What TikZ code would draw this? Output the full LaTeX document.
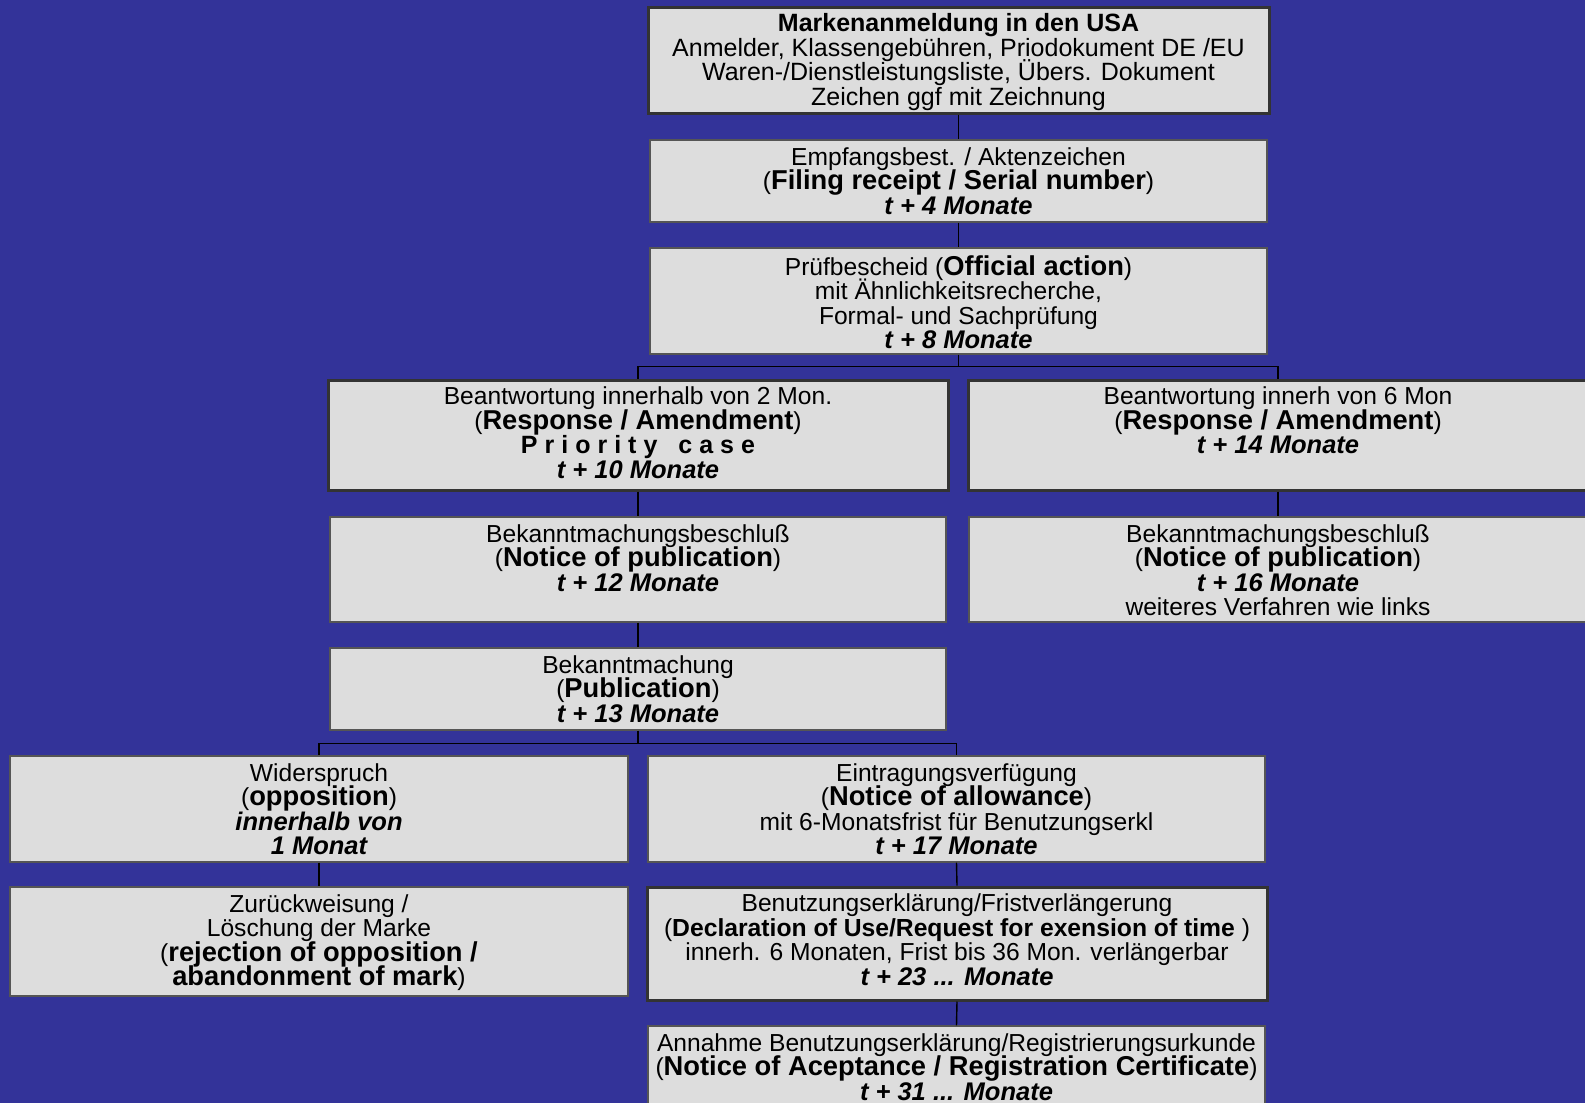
\documentclass[tikz,border=0pt]{standalone}
\usepackage{fontspec}
\setmainfont{Liberation Sans}
\definecolor{bg}{HTML}{333399}
\definecolor{boxfill}{HTML}{DDDDDD}
\definecolor{thickedge}{HTML}{333333}
\definecolor{thinedge}{HTML}{555555}
\newcommand\Bx[1]{{\fontsize{27.3}{24.5}\selectfont\bfseries #1}}
\newcommand\Ttl[1]{{\fontsize{25}{24.5}\selectfont\bfseries #1}}
\newcommand\Tm[1]{{\fontsize{25.5}{24.5}\selectfont\bfseries\itshape #1}}
\newcommand\Lg[1]{{\fontsize{25}{24.5}\selectfont #1}}
\newcommand\ls{\kern7pt}
\begin{document}
\begin{tikzpicture}[x=1pt,y=-1pt,
  box/.style={draw=thinedge, line width=1.2pt, fill=boxfill, inner sep=0pt, rectangle},
  heavy/.style={box, draw=thickedge, line width=3pt},
  txt/.style={anchor=north, align=center, inner sep=0pt, text=black,
    font=\fontsize{24.6}{24.5}\selectfont,
    execute at begin node={\lineskiplimit=-100pt\lineskip=0pt\relax\rule{0pt}{18pt}}},
  link/.style={draw=black, line width=1.4pt}]
\useasboundingbox (0,0) rectangle (1585,1103);
\clip (0,0) rectangle (1585,1103);
\fill[bg] (0,0) rectangle (1585,1103);

% boxes
\node[heavy, minimum width=621pt, minimum height=106pt] (b1) at (958.5,60) {};
\node[box, minimum width=617pt, minimum height=82pt] (b2) at (958.5,181) {};
\node[box, minimum width=617pt, minimum height=106pt] (b3) at (958.5,301) {};
\node[heavy, minimum width=620pt, minimum height=110pt] (b4L) at (638,435) {};
\node[heavy, minimum width=620pt, minimum height=110pt] (b4R) at (1278,435) {};
\node[box, minimum width=616pt, minimum height=105pt] (b5L) at (638,569.5) {};
\node[box, minimum width=618pt, minimum height=105pt] (b5R) at (1278,569.5) {};
\node[box, minimum width=616pt, minimum height=82pt] (b6) at (638,689) {};
\node[box, minimum width=618pt, minimum height=106pt] (b7L) at (319,809) {};
\node[box, minimum width=617pt, minimum height=106pt] (b7R) at (956.5,809) {};
\node[box, minimum width=618pt, minimum height=109pt] (b8L) at (319,941.5) {};
\node[heavy, minimum width=620pt, minimum height=113pt] (b8R) at (957,943.5) {};
\node[box, minimum width=617pt, minimum height=106pt] (b9) at (956.5,1079) {};

% connectors
\draw[link] (b1.south) -- (b2.north);
\draw[link] (b2.south) -- (b3.north);
\draw[link] (b3.south) -- ++(0,12) coordinate (j1) -| (b4L.north);
\draw[link] (j1) -| (b4R.north);
\draw[link] (b4L.south) -- (b5L.north);
\draw[link] (b5L.south) -- (b6.north);
\draw[link] (b4R.south) -- (b5R.north);
\draw[link] (b6.south) -- ++(0,13) coordinate (j2) -| (b7L.north);
\draw[link] (j2) -| (b7R.north);
\draw[link] (b7L.south) -- (b8L.north);
\draw[link] (b7R.south) -- (b8R.north);
\draw[link] (b8R.south) -- (b9.north);

% texts
\node[txt] (t1) at ([yshift=-8pt]b1.north) {\Ttl{Markenanmeldung in den USA}\\
  \Lg{Anmelder, Klassengebühren, Priodokument DE /EU}\\
  \Lg{Waren-/Dienstleistungsliste, Übers. Dokument}\\
  \Lg{Zeichen ggf mit Zeichnung}};
\node[txt] (t2) at ([yshift=-8pt]b2.north) {Empfangsbest. / Aktenzeichen\\
  (\Bx{Filing receipt / Serial number})\\
  \Tm{t + 4 Monate}};
\node[txt] (t3) at ([yshift=-8pt]b3.north) {Prüfbescheid (\Bx{Official action})\\
  mit Ähnlichkeitsrecherche,\\
  Formal- und Sachprüfung\\
  \Tm{t + 8 Monate}};
\node[txt] (t4L) at ([yshift=-8pt]b4L.north) {Beantwortung innerhalb von 2 Mon.\\
  (\Bx{Response / Amendment})\\
  {\fontsize{25}{24.5}\selectfont\bfseries P\ls r\ls i\ls o\ls r\ls i\ls t\ls y\ls\ \ls c\ls a\ls s\ls e}\\
  \Tm{t + 10 Monate}};
\node[txt] (t4R) at ([yshift=-8pt]b4R.north) {Beantwortung innerh von 6 Mon\\
  (\Bx{Response / Amendment})\\
  \Tm{t + 14 Monate}};
\node[txt] (t5L) at ([yshift=-8pt]b5L.north) {Bekanntmachungsbeschluß\\
  (\Bx{Notice of publication})\\
  \Tm{t + 12 Monate}};
\node[txt] (t5R) at ([yshift=-8pt]b5R.north) {Bekanntmachungsbeschluß\\
  (\Bx{Notice of publication})\\
  \Tm{t + 16 Monate}\\
  weiteres Verfahren wie links};
\node[txt] (t6) at ([yshift=-8pt]b6.north) {Bekanntmachung\\
  (\Bx{Publication})\\
  \Tm{t + 13 Monate}};
\node[txt] (t7L) at ([yshift=-8pt]b7L.north) {Widerspruch\\
  (\Bx{opposition})\\
  \Tm{innerhalb von}\\
  \Tm{1 Monat}};
\node[txt] (t7R) at ([yshift=-8pt]b7R.north) {Eintragungsverfügung\\
  (\Bx{Notice of allowance})\\
  mit 6-Monatsfrist für Benutzungserkl\\
  \Tm{t + 17 Monate}};
\node[txt] (t8L) at ([yshift=-8pt]b8L.north) {Zurückweisung /\\
  Löschung der Marke\\
  (\Bx{rejection of opposition /}\\
  \Bx{abandonment of mark})};
\node[txt] (t8R) at ([yshift=-8pt]b8R.north) {Benutzungserklärung/Fristverlängerung\\
  ({\fontsize{24.7}{24.5}\selectfont\bfseries Declaration of Use/Request for exension of time} )\\
  innerh. 6 Monaten, Frist bis 36 Mon. verlängerbar\\
  \Tm{t + 23 ... Monate}};
\node[txt] (t9) at ([yshift=-8pt]b9.north) {Annahme Benutzungserklärung/Registrierungsurkunde\\
  (\Bx{Notice of Aceptance / Registration Certificate})\\
  \Tm{t + 31 ... Monate}};
\end{tikzpicture}
\end{document}
